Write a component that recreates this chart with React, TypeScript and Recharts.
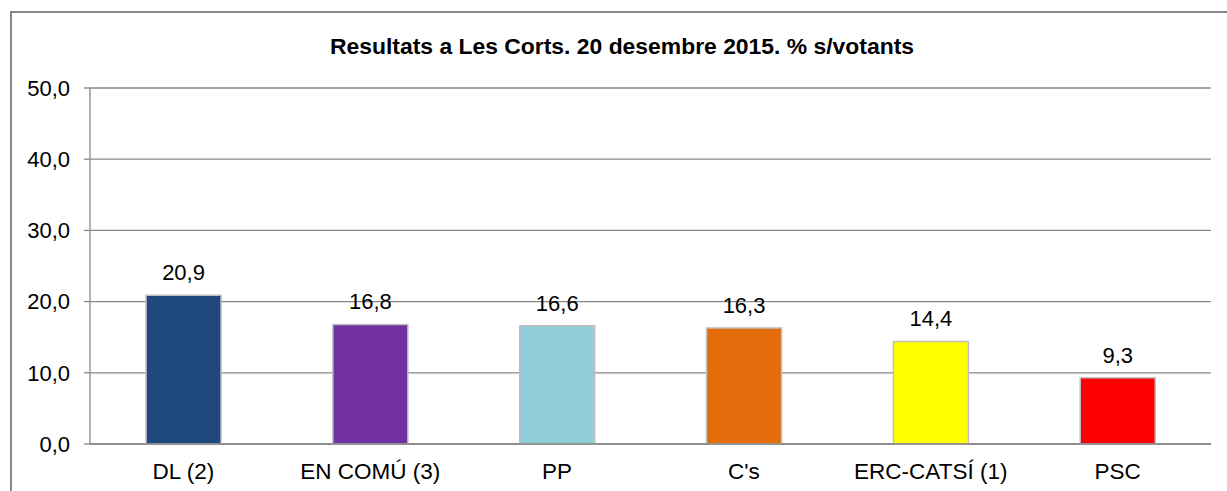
import React from 'react';
import { BarChart, Bar, XAxis, YAxis, CartesianGrid, Cell, LabelList } from 'recharts';

const parties = ['DL (2)', 'EN COMÚ (3)', 'PP', "C's", 'ERC-CATSÍ (1)', 'PSC'];
const votes = [20.9, 16.8, 16.6, 16.3, 14.4, 9.3];
const partyColors = ['#1f497d', '#7030a0', '#92cddc', '#e46c0a', '#ffff00', '#ff0000'];
const yTicks = [0, 10, 20, 30, 40, 50];
// category boundaries 0..n, used for the Excel-style tick marks between bars
const boundaryTicks = parties.map((_, i) => i).concat(parties.length);

const data = parties.map((name, i) => ({ name, value: votes[i], pos: i + 0.5 }));

const fmt = (v: number) => v.toFixed(1).replace('.', ',');
const FONT = '"Liberation Sans", Arial, sans-serif';
const GRAY = '#878787';

export default function App() {
  return (
    <div style={{ position: 'absolute', left: 0, top: 0, width: 1227, height: 491, overflow: 'hidden', background: '#fff' }}>
      <div
        style={{
          position: 'absolute',
          left: 10,
          top: 11,
          width: 1300,
          height: 600,
          border: `2px solid ${GRAY}`,
        }}
      />
      <div
        style={{
          position: 'absolute',
          left: 0,
          width: 1244,
          top: 33,
          textAlign: 'center',
          fontFamily: FONT,
          fontWeight: 'bold',
          fontSize: 22.9,
          lineHeight: '26px',
          color: '#000',
        }}
      >
        Resultats a Les Corts. 20 desembre 2015. % s/votants
      </div>
      <div style={{ position: 'absolute', left: 0, top: 0 }}>
        <BarChart
          width={1227}
          height={491}
          data={data}
          margin={{ top: 88, right: 16, bottom: 17, left: 10 }}
          barCategoryGap="30%"
        >
          <CartesianGrid vertical={false} xAxisId="names" stroke={GRAY} strokeWidth={1.3} />
          <XAxis
            xAxisId="bounds"
            dataKey="pos"
            type="number"
            domain={[0, parties.length]}
            allowDataOverflow
            ticks={boundaryTicks}
            interval={0}
            height={1}
            tick={false}
            tickSize={7}
            axisLine={{ stroke: GRAY, strokeWidth: 1.3 }}
            tickLine={{ stroke: GRAY, strokeWidth: 1.3 }}
          />
          <XAxis
            xAxisId="names"
            dataKey="name"
            height={29}
            axisLine={false}
            tickLine={false}
            tickSize={7}
            tickMargin={11}
            interval={0}
            tick={{ fill: '#000', fontSize: 22.5, fontFamily: FONT }}
          />
          <YAxis
            width={80}
            domain={[0, 50]}
            ticks={yTicks}
            tickFormatter={fmt}
            tickSize={6}
            tickMargin={14}
            axisLine={{ stroke: GRAY, strokeWidth: 1.3 }}
            tickLine={{ stroke: GRAY, strokeWidth: 1.3 }}
            tick={{ fill: '#000', fontSize: 22, fontFamily: FONT }}
          />
          <Bar xAxisId="names" dataKey="value" stroke="#bfbfbf" strokeWidth={1.5} isAnimationActive={false}>
            {data.map((_, i) => (
              <Cell key={`c-${i}`} fill={partyColors[i]} />
            ))}
            <LabelList
              dataKey="value"
              position="top"
              offset={15}
              formatter={(v: number) => fmt(v)}
              style={{ fill: '#000', fontSize: 22, fontFamily: FONT }}
            />
          </Bar>
        </BarChart>
      </div>
    </div>
  );
}
